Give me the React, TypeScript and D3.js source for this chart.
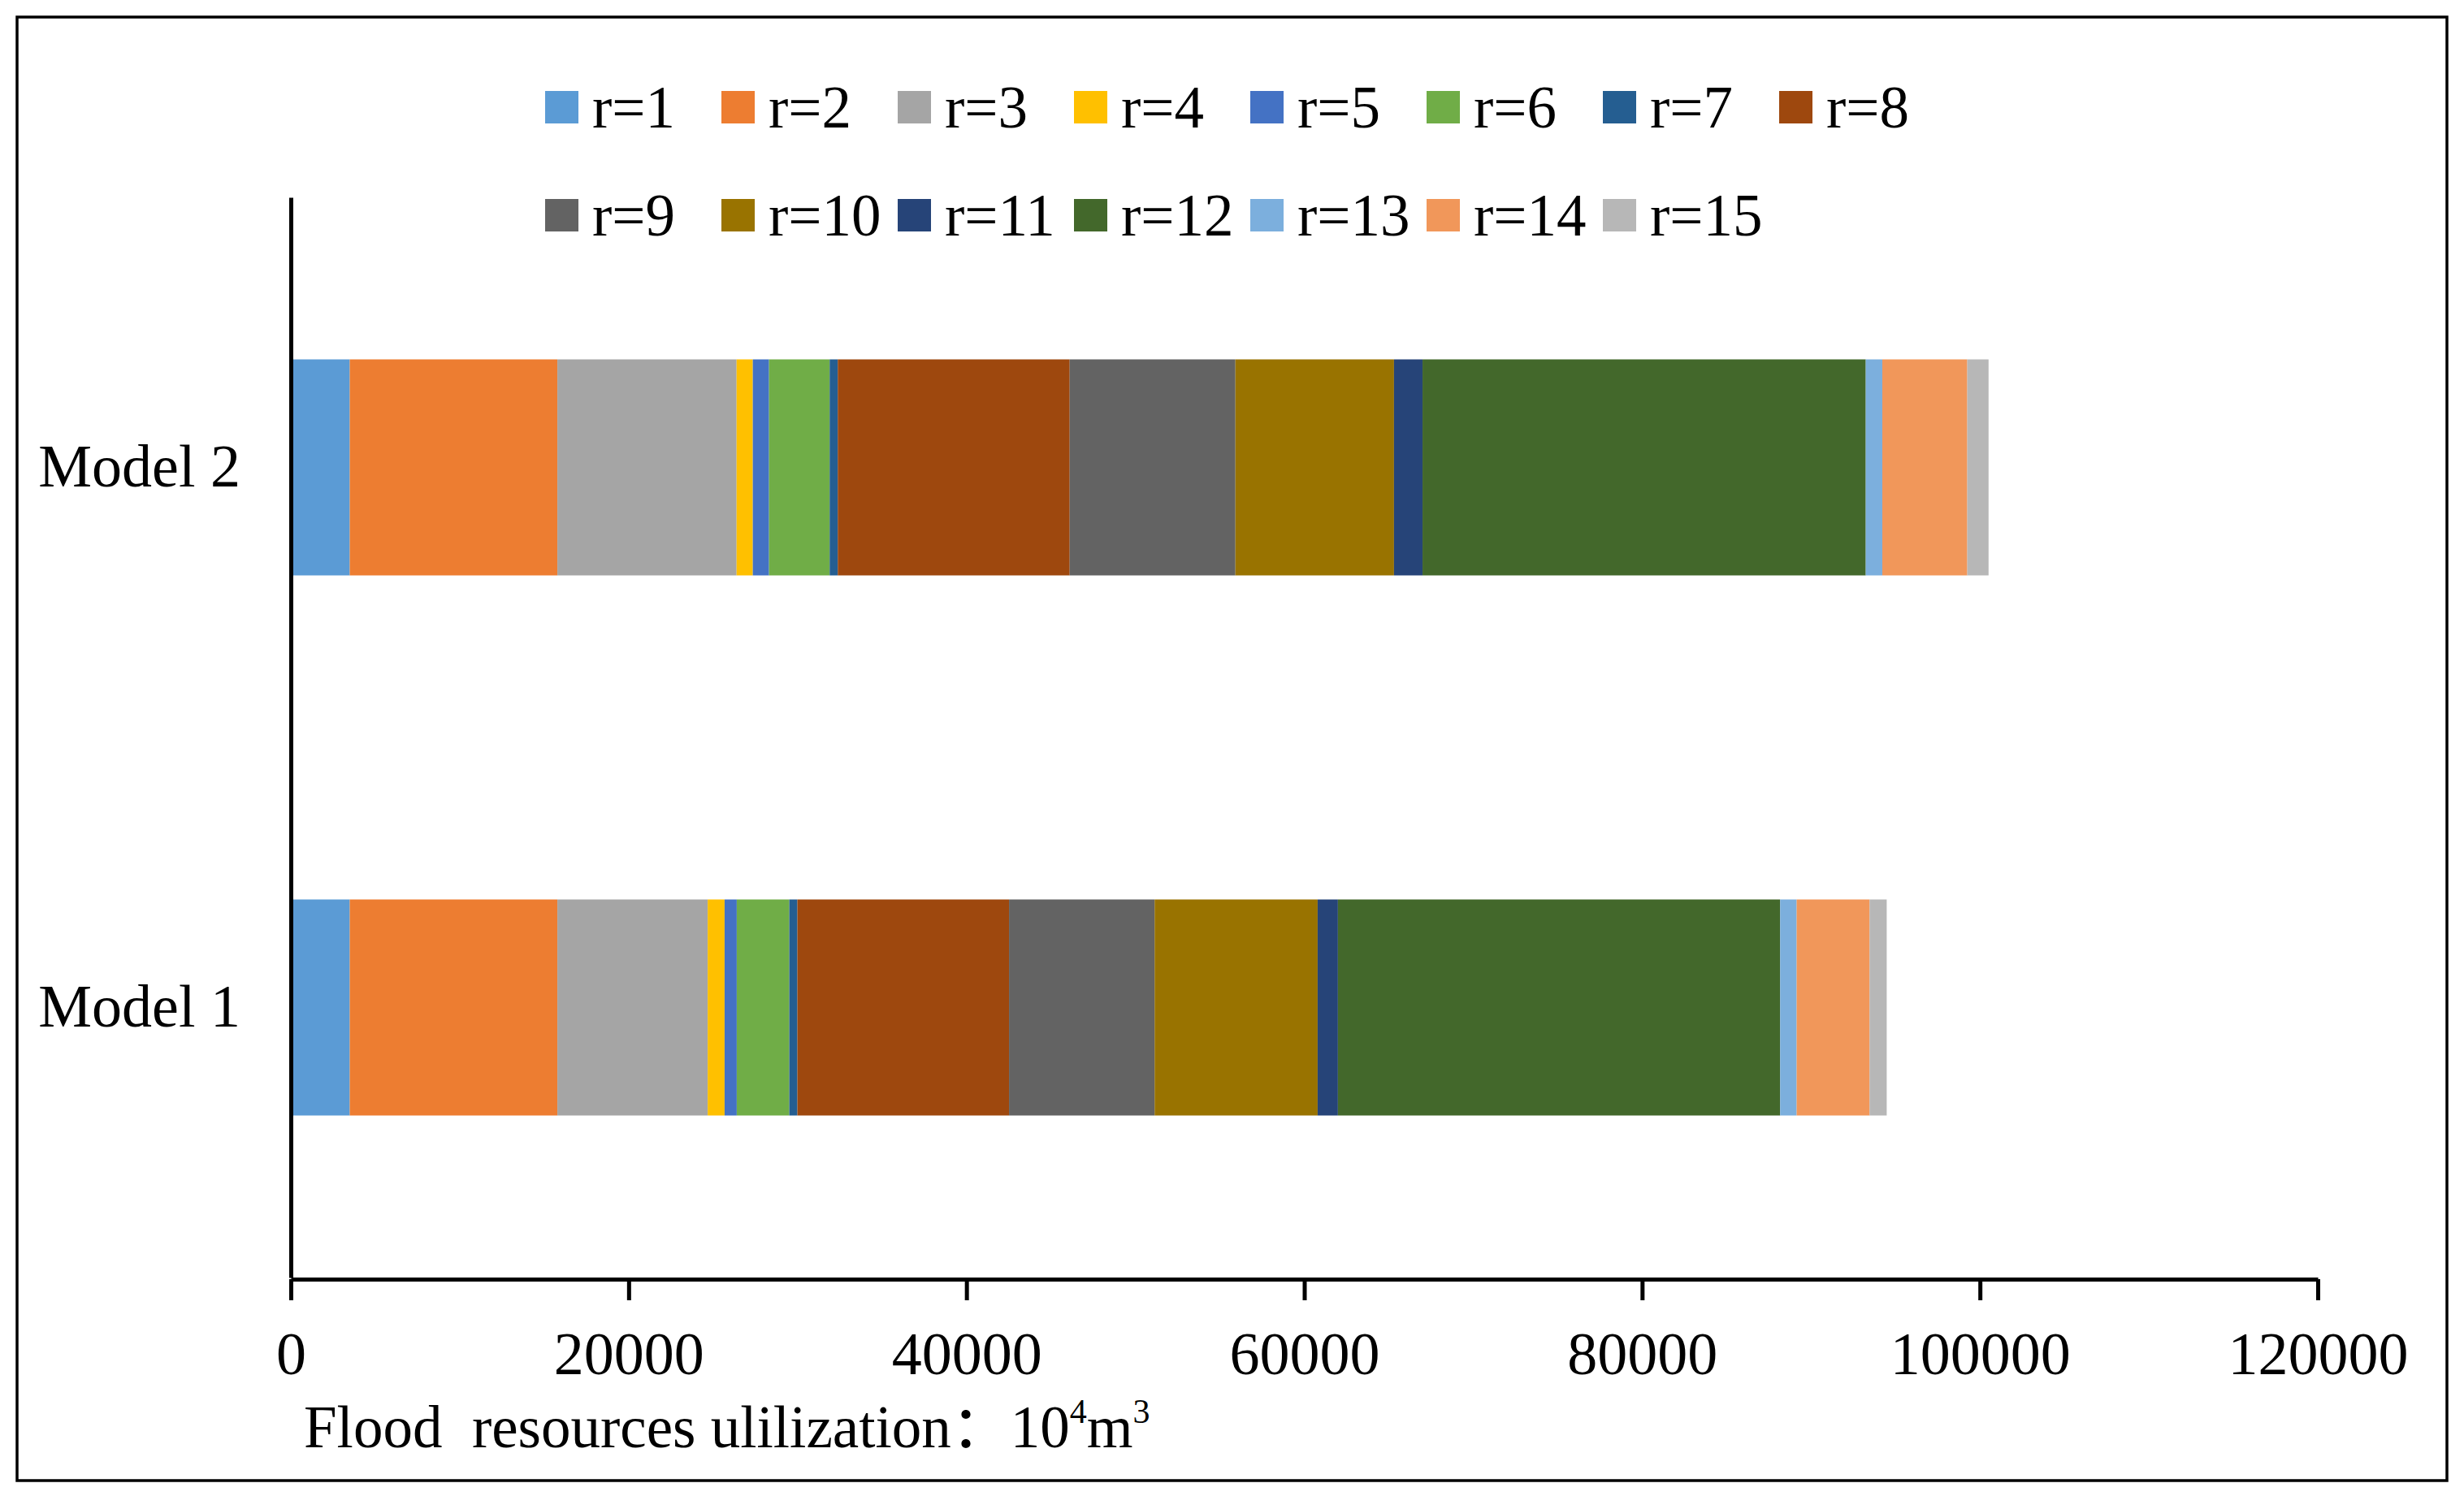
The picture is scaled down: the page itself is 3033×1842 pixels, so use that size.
import * as d3 from 'd3';
import { useEffect, useRef } from 'react';

// categories, top to bottom as drawn
const categories = ['Model 2', 'Model 1'];

// series names and colours (legend order = stack order)
const seriesNames = [
  'r=1', 'r=2', 'r=3', 'r=4', 'r=5', 'r=6', 'r=7', 'r=8',
  'r=9', 'r=10', 'r=11', 'r=12', 'r=13', 'r=14', 'r=15',
];
const seriesColors = [
  '#5B9BD5', '#ED7D31', '#A5A5A5', '#FFC000', '#4472C4', '#70AD47', '#255E91', '#9E480E',
  '#636363', '#997300', '#264478', '#43682B', '#7CAFDD', '#F1975A', '#B7B7B7',
];

// values (10^4 m3)
const model1Values = [3490, 12290, 8900, 1000, 720, 3110, 480, 12530, 8620, 9650, 1200, 26180, 980, 4320, 1010];
const model2Values = [3490, 12290, 10610, 960, 960, 3590, 480, 13730, 9810, 9390, 1690, 26240, 980, 5030, 1260];

const xTicks = [0, 20000, 40000, 60000, 80000, 100000, 120000];

const W = 3033;
const H = 1842;
const FONT = '"Liberation Serif", "Times New Roman", "Noto Sans CJK SC", serif';

const StackedBar = () => {
  const ref = useRef<SVGSVGElement>(null);

  useEffect(() => {
    if (!ref.current) return;
    const svg = d3.select(ref.current);
    svg.selectAll('*').remove();

    // table for d3.stack
    const rows = [
      { model: 'Model 1', values: model1Values },
      { model: 'Model 2', values: model2Values },
    ].map((r) => {
      const o: Record<string, any> = { model: r.model };
      seriesNames.forEach((k, i) => (o[k] = r.values[i]));
      return o;
    });

    const stacked = d3.stack<any>().keys(seriesNames)(rows);

    const x = d3.scaleLinear().domain([0, 120000]).range([358, 2853]);
    const y = d3
      .scaleBand()
      .domain(categories)
      .range([243, 1573])
      .paddingInner(0.6)
      .paddingOuter(0.3);

    // outer frame
    svg
      .append('rect')
      .attr('x', 21)
      .attr('y', 21)
      .attr('width', 3012 - 21)
      .attr('height', 1823 - 21)
      .attr('fill', 'none')
      .attr('stroke', '#000')
      .attr('stroke-width', 3.5);

    // bars
    svg
      .append('g')
      .selectAll('g')
      .data(stacked)
      .join('g')
      .attr('fill', (d, i) => seriesColors[i])
      .selectAll('rect')
      .data((d) => d)
      .join('rect')
      .attr('x', (d) => x(d[0]))
      .attr('width', (d) => x(d[1]) - x(d[0]))
      .attr('y', (d) => y(d.data.model) ?? 0)
      .attr('height', y.bandwidth());

    // y axis
    const yAxis = svg
      .append('g')
      .attr('transform', `translate(${x(0)},0)`)
      .call(d3.axisLeft(y).tickSize(0).tickSizeOuter(0).tickPadding(62));
    yAxis.select('.domain').attr('stroke', '#000').attr('stroke-width', 5);
    yAxis
      .selectAll('text')
      .attr('font-family', FONT)
      .attr('font-size', 74)
      .attr('fill', '#000');

    // x axis
    const xAxis = svg
      .append('g')
      .attr('transform', `translate(0,1575)`)
      .call(
        d3
          .axisBottom(x)
          .tickValues(xTicks)
          .tickFormat(d3.format('d'))
          .tickSize(26)
          .tickSizeOuter(0)
          .tickPadding(38),
      );
    xAxis.select('.domain').attr('stroke', '#000').attr('stroke-width', 5);
    xAxis.selectAll('.tick line').attr('stroke', '#000').attr('stroke-width', 5);
    xAxis
      .selectAll('text')
      .attr('font-family', FONT)
      .attr('font-size', 74)
      .attr('fill', '#000');

    // axis title
    const title = svg
      .append('text')
      .attr('x', 374)
      .attr('y', 1782)
      .attr('font-family', FONT)
      .attr('font-size', 73)
      .style('white-space', 'pre')
      .attr('fill', '#000');
    title.append('tspan').text('Flood  resources ulilization：10');
    title.append('tspan').attr('font-size', 42).attr('dy', -30).text('4');
    title.append('tspan').attr('dy', 30).text('m');
    title.append('tspan').attr('font-size', 42).attr('dy', -30).text('3');

    // legend, 8 per row
    const legend = svg.append('g');
    const item = legend
      .selectAll('g')
      .data(seriesNames)
      .join('g')
      .attr('transform', (d, i) => `translate(${671 + (i % 8) * 217},${i < 8 ? 132 : 265})`);
    item
      .append('rect')
      .attr('x', 0)
      .attr('y', -20)
      .attr('width', 41)
      .attr('height', 40)
      .attr('fill', (d, i) => seriesColors[i]);
    item
      .append('text')
      .attr('x', 58)
      .attr('y', 25)
      .attr('font-family', FONT)
      .attr('font-size', 73)
      .attr('fill', '#000')
      .text((d) => d);
  }, []);

  return (
    <svg
      ref={ref}
      width={W}
      height={H}
      style={{ position: 'absolute', left: 0, top: 0, background: '#fff', display: 'block' }}
    />
  );
};

export default function App() {
  return <StackedBar />;
}
